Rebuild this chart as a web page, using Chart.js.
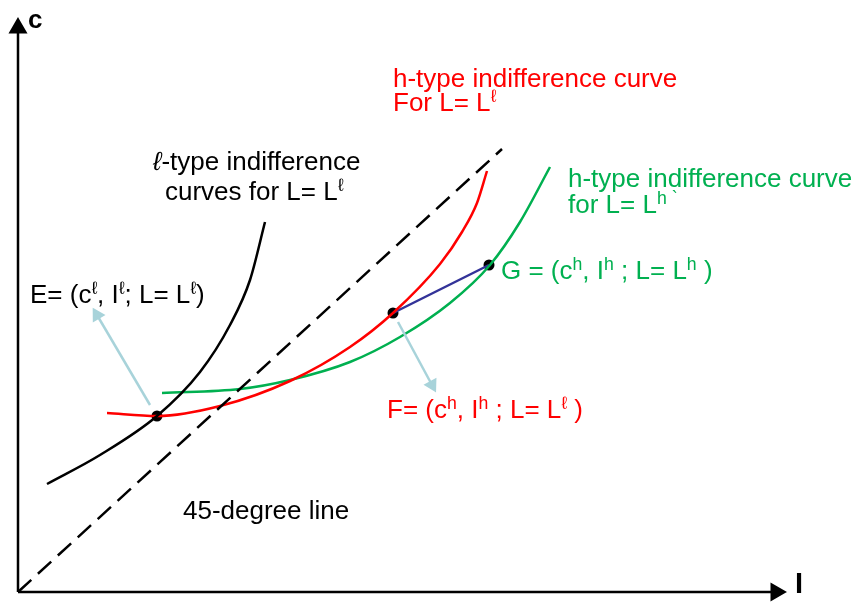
<!DOCTYPE html>
<html><head><meta charset="utf-8">
<script src="https://cdn.jsdelivr.net/npm/chart.js@4/dist/chart.umd.min.js"></script>
<style>html,body{margin:0;padding:0;background:#fff;}canvas{display:block;}</style>
</head><body>
<canvas id="c" width="858" height="606"></canvas>
<script>
// Diagram data (x = I, y = c)
const lTypeI = [29, 82, 139, 182, 212, 232, 247];
const lTypeC = [108, 137, 176, 220, 267, 312, 370];
const hLowI = [89, 139, 202, 272, 332, 375, 422, 444, 459, 469];
const hLowC = [179, 176, 186, 211, 245, 279, 328, 360, 389, 421];
const hHighI = [144, 222, 272, 332, 382, 432, 472, 502, 532];
const hHighC = [199, 203, 212, 230, 255, 289, 327, 370, 425];
const line45I = [0, 484];
const line45C = [0, 443];
const pointNames = ['E', 'F', 'G'];
const pointI = [139, 375, 471];
const pointC = [176, 279, 327];
const axisIMax = 758;
const axisCMax = 564;
const arrowE_I = [132, 79];
const arrowE_C = [187, 277];
const arrowF_I = [380, 414];
const arrowF_C = [270, 207];

const pts = (xs, ys) => xs.map((x, i) => ({x, y: ys[i]}));
const RED = '#ff0000', GREEN = '#00b050', BLUE = '#333399', LB = '#a8d3da';

const FONT = '"Liberation Sans", Arial, sans-serif';
// labels: segments [text, sup?, italic?]
const labels = [
  {x: 375, y: 505, color: RED, parts: [['h-type indifference curve']]},
  {x: 375, y: 481, color: RED, parts: [['For L= L'], ['ℓ', 1]]},
  {x: 550, y: 405, color: GREEN, parts: [['h-type indifference curve']]},
  {x: 550, y: 379, color: GREEN, parts: [['for L= L'], ['h', 1], [' `', 1]]},
  {x: 135, y: 422, color: '#000', parts: [['ℓ', 0, 1], ['-type indifference']]},
  {x: 147, y: 392, color: '#000', parts: [['curves for L= L'], ['ℓ', 1]]},
  {x: 12, y: 289, color: '#000', parts: [['E= (c'], ['ℓ', 1], [', I'], ['ℓ', 1], ['; L= L'], ['ℓ', 1], [')']]},
  {x: 483, y: 313, color: GREEN, parts: [['G = (c'], ['h', 1], [', I'], ['h', 1], [' ; L= L'], ['h', 1], [' )']]},
  {x: 369, y: 174, color: RED, parts: [['F= (c'], ['h', 1], [', I'], ['h', 1], [' ; L= L'], ['ℓ', 1], [' )']]},
  {x: 165, y: 73, color: '#000', parts: [['45-degree line']]},
  {x: 10, y: 564, color: '#000', bold: 1, size: 26, parts: [['c']]},
  {x: 777, y: -1, color: '#000', bold: 1, size: 29, parts: [['I']]}
];

const textPlugin = {
  id: 'texts',
  afterDatasetsDraw(chart) {
    const ctx = chart.ctx, xs = chart.scales.x, ys = chart.scales.y;
    ctx.save();
    ctx.textBaseline = 'alphabetic';
    for (const lb of labels) {
      const size = lb.size || 26;
      let px = xs.getPixelForValue(lb.x);
      const py = ys.getPixelForValue(lb.y);
      ctx.fillStyle = lb.color;
      for (const [t, sup, it] of lb.parts) {
        const s = sup ? size * 0.68 : size;
        ctx.font = (it ? 'italic ' : '') + (lb.bold ? 'bold ' : '') + s + 'px ' + FONT;
        ctx.fillText(t, px, sup ? py - size * 0.36 : py);
        px += ctx.measureText(t).width;
      }
    }
    ctx.restore();
  }
};

const lineDs = (data, color, width, extra) => Object.assign({
  data, borderColor: color, backgroundColor: color, borderWidth: width,
  showLine: true, pointRadius: 0, fill: false, tension: 0
}, extra || {});

new Chart(document.getElementById('c'), {
  type: 'scatter',
  data: {
    datasets: [
      lineDs(pts([0, 0], [0, axisCMax]), '#000', 2.5, {pointRadius: [0, 8.5], pointStyle: 'triangle', pointRotation: 0}),
      lineDs(pts([0, axisIMax], [0, 0]), '#000', 2.5, {pointRadius: [0, 8.5], pointStyle: 'triangle', pointRotation: 90}),
      lineDs(pts(line45I, line45C), '#000', 2.5, {borderDash: [18, 9]}),
      lineDs(pts(arrowE_I, arrowE_C), LB, 2.5, {pointRadius: [0, 6], pointStyle: 'triangle', pointRotation: -30.5}),
      lineDs(pts(arrowF_I, arrowF_C), LB, 2.5, {pointRadius: [0, 6], pointStyle: 'triangle', pointRotation: 151.6}),
      lineDs(pts(lTypeI, lTypeC), '#000', 2.5, {cubicInterpolationMode: 'monotone'}),
      lineDs(pts(hLowI, hLowC), RED, 2.5, {cubicInterpolationMode: 'monotone'}),
      lineDs(pts(hHighI, hHighC), GREEN, 2.5, {cubicInterpolationMode: 'monotone'}),
      lineDs(pts(pointI.slice(1), pointC.slice(1)), BLUE, 2.5),
      {data: pts(pointI, pointC), pointRadius: 5.5, pointBackgroundColor: '#000', pointBorderColor: '#000', showLine: false}
    ]
  },
  options: {
    responsive: false, animation: false,
    layout: {padding: 0, autoPadding: false},
    plugins: {legend: {display: false}, tooltip: {enabled: false}, title: {display: false}},
    scales: {
      x: {type: 'linear', min: -18, max: 840, display: false},
      y: {type: 'linear', min: -14, max: 592, display: false}
    },
    elements: {point: {borderWidth: 0}}
  },
  plugins: [textPlugin]
});
</script>
</body></html>
